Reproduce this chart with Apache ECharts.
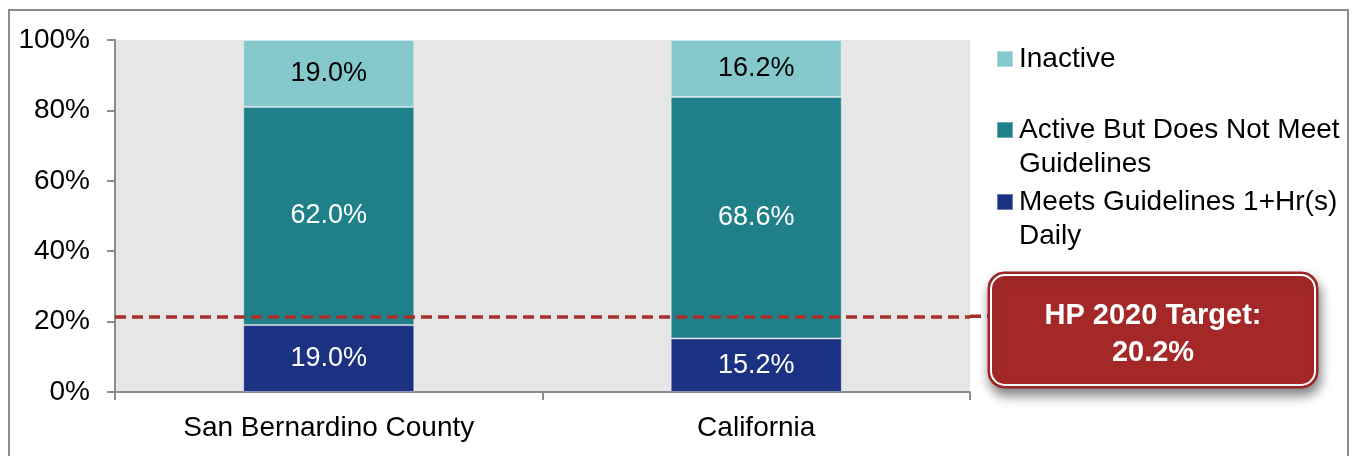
<!DOCTYPE html>
<html>
<head>
<meta charset="utf-8">
<script src="https://cdn.jsdelivr.net/npm/echarts@6/dist/echarts.min.js"></script>
<style>
html,body{margin:0;padding:0;background:#fff;}
#frame{position:absolute;left:8px;top:9px;width:1341px;height:460px;border:1px solid #8c8c8c;border-width:2px 2px 0 2px;box-sizing:border-box;}
#main{position:absolute;left:0;top:0;width:1354px;height:456px;}
</style>
</head>
<body>
<div id="frame"></div>
<div id="main"></div>
<script>
const categories = ['San Bernardino County', 'California'];
const seriesNames = ['Meets Guidelines 1+Hr(s) Daily', 'Active But Does Not Meet Guidelines', 'Inactive'];
const meetsValues = [19.0, 15.2];
const activeValues = [62.0, 68.6];
const inactiveValues = [19.0, 16.2];
const yTicks = [0, 20, 40, 60, 80, 100];
const targetLabel = ['HP 2020 Target:', '20.2%'];
const targetLinePosition = 21.5;

const FONT = 'Liberation Sans, Arial, sans-serif';
const colors = ['#1b3282', '#20808a', '#86c9cd'];
const labelColors = ['#ffffff', '#ffffff', '#000000'];
const valueSets = [meetsValues, activeValues, inactiveValues];

const chart = echarts.init(document.getElementById('main'), null, {renderer: 'canvas'});

const series = seriesNames.map((name, i) => ({
  name: name,
  type: 'bar',
  stack: 'total',
  barWidth: '40%',
  data: valueSets[i],
  itemStyle: {color: colors[i], borderColor: 'rgba(255,255,255,0.35)', borderWidth: 1},
  label: {
    show: true,
    position: 'inside',
    formatter: p => p.value.toFixed(1) + '%',
    color: labelColors[i],
    fontFamily: FONT,
    fontSize: 27
  },
  emphasis: {disabled: true}
}));

series[0].markLine = {
  silent: true,
  symbol: 'none',
  label: {show: false},
  lineStyle: {color: '#a8302b', type: [11, 6], width: 3.5},
  data: [{yAxis: targetLinePosition}]
};

function legendFor(name, top, text) {
  return {
    data: [name],
    left: 996,
    top: top,
    orient: 'vertical',
    padding: 0,
    icon: 'rect',
    itemWidth: 16,
    itemHeight: 16,
    selectedMode: false,
    formatter: () => text,
    textStyle: {fontFamily: FONT, fontSize: 28, color: '#000', lineHeight: 30, padding: [0, 0, 0, 1]}
  };
}

const option = {
  animation: false,
  backgroundColor: 'transparent',
  grid: {left: 115, right: 384, top: 40, bottom: 64, show: true, backgroundColor: '#e6e6e6', borderWidth: 0},
  legend: [
    legendFor(seriesNames[2], 44, 'Inactive'),
    legendFor(seriesNames[1], 115, 'Active But Does Not Meet'),
    legendFor(seriesNames[0], 187, 'Meets Guidelines 1+Hr(s)')
  ],
  xAxis: {
    type: 'category',
    data: categories,
    axisLine: {lineStyle: {color: '#8c8c8c', width: 2}},
    axisTick: {show: true, length: 8, lineStyle: {color: '#8c8c8c', width: 2}},
    axisLabel: {fontFamily: FONT, fontSize: 28, color: '#000', margin: 22}
  },
  yAxis: {
    type: 'value',
    min: yTicks[0],
    max: yTicks[yTicks.length - 1],
    interval: yTicks[1] - yTicks[0],
    splitLine: {show: false},
    axisLine: {show: true, lineStyle: {color: '#8c8c8c', width: 2}},
    axisTick: {show: true, length: 8, lineStyle: {color: '#8c8c8c', width: 2}},
    axisLabel: {fontFamily: FONT, fontSize: 28, color: '#000', margin: 25, formatter: '{value}%'}
  },
  series: series
};
chart.setOption(option);

const yLine = chart.convertToPixel({yAxisIndex: 0}, targetLinePosition);
chart.setOption({
  graphic: [
    {type: 'line', shape: {x1: 970, y1: yLine, x2: 990, y2: yLine}, style: {stroke: '#a8302b', lineWidth: 3.5, lineDash: [11, 6]}, z: 5},
    {type: 'text', left: 1019, top: 150, style: {text: 'Guidelines', font: '28px ' + FONT, fill: '#000'}},
    {type: 'text', left: 1019, top: 222, style: {text: 'Daily', font: '28px ' + FONT, fill: '#000'}},
    {type: 'rect', shape: {x: 988, y: 272, width: 330, height: 116, r: 16},
      style: {fill: '#a42828', stroke: '#9a2424', lineWidth: 1, shadowBlur: 12, shadowOffsetY: 7, shadowOffsetX: 2, shadowColor: 'rgba(0,0,0,0.5)'}, z: 10},
    {type: 'rect', shape: {x: 991, y: 275, width: 324, height: 110, r: 14},
      style: {fill: 'none', stroke: '#ffffff', lineWidth: 2}, z: 11},
    {type: 'text', x: 1153, y: 316, style: {text: targetLabel[0], font: 'bold 29px ' + FONT, fill: '#fff', align: 'center', verticalAlign: 'middle'}, z: 12},
    {type: 'text', x: 1153, y: 353, style: {text: targetLabel[1], font: 'bold 29px ' + FONT, fill: '#fff', align: 'center', verticalAlign: 'middle'}, z: 12}
  ]
});
</script>
</body>
</html>
